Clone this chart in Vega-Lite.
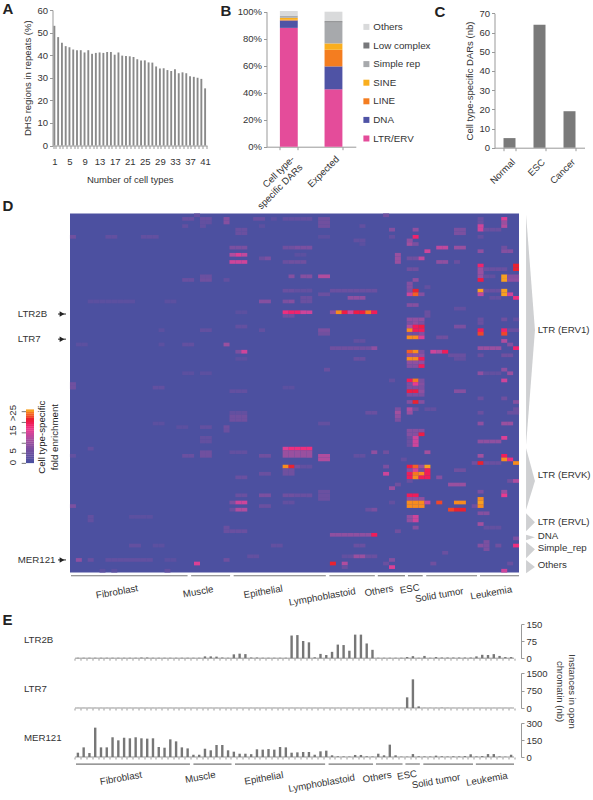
{"$schema":"https://vega.github.io/schema/vega-lite/v6.json","autosize":"none","padding":{"left":52.5,"top":10,"right":540.5,"bottom":790},"background":"white","bounds":"flush","spacing":0,
"config":{"font":"Liberation Sans","view":{"stroke":null},"title":{"font":"Liberation Sans","fontSize":15,"fontWeight":"bold","color":"#222","anchor":"start","frame":"group","offset":0},"axis":{"grid":false,"labelFont":"Liberation Sans","titleFont":"Liberation Sans","labelFontSize":9.5,"titleFontSize":9.5,"titleFontWeight":"normal","labelColor":"#333","titleColor":"#333","domainColor":"#999","tickColor":"#999","tickSize":3},"text":{"font":"Liberation Sans","fontSize":9.7,"color":"#333"},"legend":{"labelFont":"Liberation Sans"}},
"datasets":{
"cells":[{"i":22,"r":1,"v":3},{"i":54,"r":1,"v":5},{"i":20,"r":2,"v":4},{"i":21,"r":2,"v":4},{"i":23,"r":2,"v":4},{"i":24,"r":2,"v":4},{"i":27,"r":2,"v":7},{"i":32,"r":2,"v":4},{"i":33,"r":2,"v":4},{"i":35,"r":2,"v":2},{"i":37,"r":2,"v":3},{"i":38,"r":2,"v":3},{"i":39,"r":2,"v":3},{"i":40,"r":2,"v":3},{"i":41,"r":2,"v":3},{"i":43,"r":2,"v":5},{"i":44,"r":2,"v":5},{"i":70,"r":2,"v":4},{"i":74,"r":2,"v":14},{"i":23,"r":3,"v":3},{"i":24,"r":3,"v":3},{"i":27,"r":3,"v":7},{"i":43,"r":3,"v":5},{"i":44,"r":3,"v":5},{"i":70,"r":3,"v":4},{"i":74,"r":3,"v":9},{"i":20,"r":4,"v":3},{"i":23,"r":4,"v":3},{"i":33,"r":4,"v":2},{"i":43,"r":4,"v":5},{"i":44,"r":4,"v":5},{"i":50,"r":4,"v":3},{"i":70,"r":4,"v":13},{"i":74,"r":4,"v":11},{"i":29,"r":5,"v":4},{"i":30,"r":5,"v":4},{"i":55,"r":5,"v":7},{"i":59,"r":5,"v":8},{"i":66,"r":5,"v":6},{"i":67,"r":5,"v":6},{"i":70,"r":5,"v":13},{"i":71,"r":5,"v":4},{"i":72,"r":5,"v":4},{"i":73,"r":5,"v":4},{"i":29,"r":6,"v":4},{"i":30,"r":6,"v":4},{"i":66,"r":6,"v":6},{"i":67,"r":6,"v":6},{"i":1,"r":7,"v":5},{"i":7,"r":7,"v":3},{"i":8,"r":7,"v":3},{"i":13,"r":7,"v":3},{"i":14,"r":7,"v":3},{"i":15,"r":7,"v":3},{"i":43,"r":7,"v":2},{"i":44,"r":7,"v":2},{"i":55,"r":7,"v":3},{"i":59,"r":7,"v":17},{"i":70,"r":7,"v":3},{"i":49,"r":8,"v":3},{"i":50,"r":8,"v":3},{"i":58,"r":8,"v":8},{"i":50,"r":9,"v":2},{"i":58,"r":9,"v":10},{"i":59,"r":9,"v":6},{"i":28,"r":10,"v":6},{"i":29,"r":10,"v":6},{"i":30,"r":10,"v":6},{"i":37,"r":10,"v":5},{"i":38,"r":10,"v":5},{"i":39,"r":10,"v":6},{"i":40,"r":10,"v":6},{"i":41,"r":10,"v":6},{"i":63,"r":10,"v":12},{"i":64,"r":10,"v":12},{"i":66,"r":10,"v":9},{"i":67,"r":10,"v":9},{"i":74,"r":10,"v":5},{"i":61,"r":11,"v":13},{"i":70,"r":11,"v":8},{"i":74,"r":11,"v":7},{"i":75,"r":11,"v":7},{"i":28,"r":12,"v":11},{"i":29,"r":12,"v":14},{"i":30,"r":12,"v":12},{"i":39,"r":12,"v":2},{"i":40,"r":12,"v":2},{"i":56,"r":12,"v":9},{"i":33,"r":13,"v":4},{"i":34,"r":13,"v":6},{"i":56,"r":13,"v":9},{"i":58,"r":13,"v":5},{"i":59,"r":13,"v":5},{"i":60,"r":13,"v":12},{"i":28,"r":14,"v":13},{"i":29,"r":14,"v":13},{"i":30,"r":14,"v":13},{"i":37,"r":14,"v":4},{"i":38,"r":14,"v":5},{"i":39,"r":14,"v":5},{"i":40,"r":14,"v":5},{"i":56,"r":14,"v":9},{"i":63,"r":14,"v":8},{"i":64,"r":14,"v":8},{"i":66,"r":14,"v":4},{"i":70,"r":15,"v":17},{"i":76,"r":15,"v":20},{"i":58,"r":16,"v":5},{"i":59,"r":16,"v":5},{"i":70,"r":16,"v":9},{"i":71,"r":16,"v":4},{"i":72,"r":16,"v":4},{"i":73,"r":16,"v":4},{"i":74,"r":16,"v":4},{"i":76,"r":16,"v":20},{"i":70,"r":17,"v":9},{"i":23,"r":18,"v":4},{"i":24,"r":18,"v":4},{"i":38,"r":18,"v":7},{"i":40,"r":18,"v":7},{"i":41,"r":18,"v":7},{"i":43,"r":18,"v":11},{"i":44,"r":18,"v":11},{"i":70,"r":18,"v":9},{"i":71,"r":18,"v":3},{"i":72,"r":18,"v":3},{"i":74,"r":18,"v":25},{"i":75,"r":18,"v":7},{"i":76,"r":18,"v":7},{"i":20,"r":19,"v":4},{"i":21,"r":19,"v":4},{"i":23,"r":19,"v":5},{"i":24,"r":19,"v":5},{"i":27,"r":19,"v":3},{"i":59,"r":19,"v":8},{"i":70,"r":19,"v":19},{"i":74,"r":19,"v":25},{"i":75,"r":19,"v":8},{"i":76,"r":19,"v":8},{"i":58,"r":20,"v":7},{"i":58,"r":21,"v":7},{"i":61,"r":21,"v":3},{"i":37,"r":22,"v":4},{"i":38,"r":22,"v":4},{"i":39,"r":22,"v":3},{"i":40,"r":22,"v":3},{"i":41,"r":22,"v":3},{"i":45,"r":22,"v":4},{"i":46,"r":22,"v":4},{"i":47,"r":22,"v":4},{"i":48,"r":22,"v":4},{"i":49,"r":22,"v":4},{"i":50,"r":22,"v":4},{"i":51,"r":22,"v":4},{"i":52,"r":22,"v":4},{"i":58,"r":22,"v":6},{"i":59,"r":22,"v":20},{"i":70,"r":22,"v":25},{"i":71,"r":22,"v":4},{"i":72,"r":22,"v":4},{"i":73,"r":22,"v":4},{"i":74,"r":22,"v":25},{"i":43,"r":23,"v":4},{"i":44,"r":23,"v":4},{"i":58,"r":23,"v":13},{"i":59,"r":23,"v":22},{"i":60,"r":23,"v":7},{"i":70,"r":23,"v":12},{"i":74,"r":23,"v":25},{"i":75,"r":23,"v":13},{"i":40,"r":24,"v":4},{"i":41,"r":24,"v":4},{"i":48,"r":24,"v":8},{"i":49,"r":24,"v":8},{"i":50,"r":24,"v":8},{"i":72,"r":24,"v":3},{"i":73,"r":24,"v":3},{"i":76,"r":24,"v":16},{"i":4,"r":25,"v":2},{"i":5,"r":25,"v":2},{"i":6,"r":25,"v":2},{"i":7,"r":25,"v":2},{"i":8,"r":25,"v":2},{"i":9,"r":25,"v":2},{"i":10,"r":25,"v":2},{"i":11,"r":25,"v":2},{"i":17,"r":25,"v":2},{"i":18,"r":25,"v":2},{"i":33,"r":25,"v":7},{"i":34,"r":25,"v":7},{"i":37,"r":25,"v":6},{"i":38,"r":25,"v":7},{"i":40,"r":25,"v":4},{"i":41,"r":25,"v":4},{"i":58,"r":26,"v":7},{"i":59,"r":26,"v":7},{"i":66,"r":27,"v":3},{"i":67,"r":27,"v":3},{"i":29,"r":28,"v":2},{"i":30,"r":28,"v":2},{"i":37,"r":28,"v":16},{"i":38,"r":28,"v":17},{"i":39,"r":28,"v":17},{"i":40,"r":28,"v":13},{"i":41,"r":28,"v":13},{"i":45,"r":28,"v":8},{"i":46,"r":28,"v":24},{"i":47,"r":28,"v":19},{"i":48,"r":28,"v":13},{"i":49,"r":28,"v":19},{"i":50,"r":28,"v":19},{"i":51,"r":28,"v":23},{"i":52,"r":28,"v":18},{"i":61,"r":28,"v":4},{"i":37,"r":29,"v":5},{"i":38,"r":29,"v":5},{"i":61,"r":29,"v":4},{"i":58,"r":30,"v":8},{"i":59,"r":30,"v":8},{"i":60,"r":30,"v":8},{"i":70,"r":30,"v":4},{"i":74,"r":30,"v":5},{"i":76,"r":30,"v":3},{"i":58,"r":31,"v":6},{"i":59,"r":31,"v":8},{"i":60,"r":31,"v":6},{"i":70,"r":31,"v":4},{"i":29,"r":32,"v":3},{"i":30,"r":32,"v":3},{"i":58,"r":32,"v":11},{"i":59,"r":32,"v":18},{"i":60,"r":32,"v":19},{"i":66,"r":32,"v":6},{"i":67,"r":32,"v":6},{"i":16,"r":33,"v":2},{"i":23,"r":33,"v":3},{"i":24,"r":33,"v":3},{"i":33,"r":33,"v":3},{"i":43,"r":33,"v":6},{"i":44,"r":33,"v":6},{"i":58,"r":33,"v":24},{"i":59,"r":33,"v":18},{"i":60,"r":33,"v":18},{"i":70,"r":33,"v":18},{"i":74,"r":33,"v":17},{"i":75,"r":33,"v":4},{"i":76,"r":33,"v":4},{"i":43,"r":34,"v":5},{"i":44,"r":34,"v":5},{"i":58,"r":34,"v":5},{"i":59,"r":34,"v":5},{"i":60,"r":34,"v":7},{"i":70,"r":34,"v":21},{"i":74,"r":34,"v":21},{"i":58,"r":35,"v":24},{"i":59,"r":35,"v":24},{"i":60,"r":35,"v":14},{"i":63,"r":35,"v":5},{"i":64,"r":35,"v":5},{"i":49,"r":36,"v":3},{"i":50,"r":36,"v":3},{"i":74,"r":36,"v":11},{"i":2,"r":37,"v":2},{"i":3,"r":37,"v":2},{"i":16,"r":37,"v":2},{"i":20,"r":37,"v":3},{"i":21,"r":37,"v":3},{"i":27,"r":37,"v":9},{"i":75,"r":37,"v":7},{"i":45,"r":38,"v":5},{"i":46,"r":38,"v":5},{"i":47,"r":38,"v":5},{"i":48,"r":38,"v":5},{"i":49,"r":38,"v":5},{"i":50,"r":38,"v":5},{"i":51,"r":38,"v":5},{"i":52,"r":38,"v":8},{"i":70,"r":38,"v":9},{"i":71,"r":38,"v":9},{"i":72,"r":38,"v":9},{"i":73,"r":38,"v":9},{"i":76,"r":38,"v":17},{"i":29,"r":39,"v":6},{"i":30,"r":39,"v":13},{"i":58,"r":39,"v":22},{"i":59,"r":39,"v":24},{"i":60,"r":39,"v":6},{"i":62,"r":39,"v":13},{"i":63,"r":39,"v":11},{"i":64,"r":39,"v":18},{"i":58,"r":40,"v":8},{"i":59,"r":40,"v":8},{"i":60,"r":40,"v":8},{"i":65,"r":40,"v":4},{"i":66,"r":40,"v":4},{"i":67,"r":40,"v":4},{"i":70,"r":40,"v":4},{"i":74,"r":40,"v":5},{"i":75,"r":40,"v":5},{"i":29,"r":41,"v":2},{"i":30,"r":41,"v":2},{"i":49,"r":41,"v":4},{"i":50,"r":41,"v":4},{"i":58,"r":41,"v":24},{"i":59,"r":41,"v":24},{"i":60,"r":41,"v":18},{"i":66,"r":41,"v":3},{"i":67,"r":41,"v":3},{"i":58,"r":42,"v":8},{"i":59,"r":42,"v":8},{"i":60,"r":42,"v":8},{"i":58,"r":43,"v":7},{"i":59,"r":43,"v":7},{"i":60,"r":43,"v":18},{"i":44,"r":44,"v":4},{"i":74,"r":44,"v":8},{"i":20,"r":45,"v":2},{"i":21,"r":45,"v":2},{"i":23,"r":45,"v":2},{"i":24,"r":45,"v":2},{"i":70,"r":45,"v":8},{"i":71,"r":45,"v":3},{"i":72,"r":45,"v":3},{"i":73,"r":45,"v":3},{"i":75,"r":45,"v":9},{"i":55,"r":47,"v":3},{"i":58,"r":47,"v":18},{"i":59,"r":47,"v":23},{"i":60,"r":47,"v":6},{"i":74,"r":47,"v":13},{"i":1,"r":48,"v":5},{"i":58,"r":48,"v":6},{"i":59,"r":48,"v":15},{"i":60,"r":48,"v":7},{"i":1,"r":49,"v":5},{"i":15,"r":49,"v":3},{"i":16,"r":49,"v":3},{"i":37,"r":49,"v":2},{"i":38,"r":49,"v":2},{"i":58,"r":49,"v":6},{"i":59,"r":49,"v":6},{"i":60,"r":49,"v":6},{"i":28,"r":50,"v":3},{"i":29,"r":50,"v":3},{"i":30,"r":50,"v":3},{"i":58,"r":50,"v":19},{"i":59,"r":50,"v":19},{"i":60,"r":50,"v":8},{"i":66,"r":50,"v":7},{"i":67,"r":50,"v":7},{"i":58,"r":51,"v":6},{"i":59,"r":51,"v":6},{"i":60,"r":51,"v":6},{"i":70,"r":52,"v":4},{"i":74,"r":52,"v":5},{"i":58,"r":53,"v":7},{"i":59,"r":53,"v":20},{"i":60,"r":53,"v":7},{"i":76,"r":53,"v":7},{"i":56,"r":55,"v":6},{"i":58,"r":55,"v":11},{"i":59,"r":55,"v":5},{"i":61,"r":55,"v":3},{"i":62,"r":55,"v":3},{"i":76,"r":55,"v":4},{"i":28,"r":56,"v":3},{"i":29,"r":56,"v":3},{"i":30,"r":56,"v":3},{"i":51,"r":56,"v":4},{"i":52,"r":56,"v":4},{"i":56,"r":56,"v":10},{"i":58,"r":56,"v":9},{"i":70,"r":56,"v":4},{"i":75,"r":56,"v":4},{"i":76,"r":56,"v":4},{"i":28,"r":57,"v":5},{"i":29,"r":57,"v":5},{"i":30,"r":57,"v":5},{"i":56,"r":57,"v":8},{"i":28,"r":58,"v":5},{"i":29,"r":58,"v":5},{"i":30,"r":58,"v":5},{"i":56,"r":58,"v":6},{"i":15,"r":59,"v":2},{"i":16,"r":59,"v":2},{"i":43,"r":59,"v":3},{"i":44,"r":59,"v":3},{"i":70,"r":59,"v":8},{"i":74,"r":59,"v":9},{"i":75,"r":59,"v":9},{"i":19,"r":60,"v":2},{"i":20,"r":60,"v":2},{"i":23,"r":60,"v":3},{"i":24,"r":60,"v":3},{"i":27,"r":60,"v":5},{"i":27,"r":61,"v":4},{"i":58,"r":61,"v":7},{"i":59,"r":61,"v":7},{"i":60,"r":61,"v":7},{"i":58,"r":62,"v":7},{"i":59,"r":62,"v":7},{"i":60,"r":62,"v":19},{"i":23,"r":63,"v":3},{"i":24,"r":63,"v":3},{"i":58,"r":63,"v":4},{"i":59,"r":63,"v":13},{"i":74,"r":63,"v":14},{"i":23,"r":64,"v":3},{"i":24,"r":64,"v":3},{"i":58,"r":64,"v":4},{"i":59,"r":64,"v":13},{"i":70,"r":64,"v":8},{"i":71,"r":64,"v":8},{"i":72,"r":64,"v":8},{"i":73,"r":64,"v":8},{"i":58,"r":65,"v":4},{"i":59,"r":65,"v":13},{"i":4,"r":66,"v":3},{"i":37,"r":66,"v":14},{"i":38,"r":66,"v":16},{"i":39,"r":66,"v":16},{"i":40,"r":66,"v":16},{"i":41,"r":66,"v":16},{"i":23,"r":67,"v":5},{"i":24,"r":67,"v":5},{"i":28,"r":67,"v":3},{"i":29,"r":67,"v":3},{"i":30,"r":67,"v":3},{"i":37,"r":67,"v":9},{"i":38,"r":67,"v":9},{"i":39,"r":67,"v":9},{"i":40,"r":67,"v":9},{"i":41,"r":67,"v":9},{"i":52,"r":67,"v":8},{"i":54,"r":67,"v":5},{"i":61,"r":67,"v":10},{"i":1,"r":68,"v":3},{"i":20,"r":68,"v":4},{"i":21,"r":68,"v":4},{"i":23,"r":68,"v":5},{"i":24,"r":68,"v":5},{"i":33,"r":68,"v":5},{"i":34,"r":68,"v":5},{"i":37,"r":68,"v":9},{"i":38,"r":68,"v":9},{"i":39,"r":68,"v":9},{"i":40,"r":68,"v":9},{"i":41,"r":68,"v":9},{"i":43,"r":68,"v":11},{"i":44,"r":68,"v":11},{"i":49,"r":68,"v":3},{"i":50,"r":68,"v":3},{"i":70,"r":68,"v":10},{"i":74,"r":68,"v":18},{"i":43,"r":69,"v":11},{"i":44,"r":69,"v":11},{"i":57,"r":69,"v":3},{"i":74,"r":69,"v":24},{"i":75,"r":69,"v":16},{"i":69,"r":70,"v":5},{"i":70,"r":70,"v":20},{"i":71,"r":70,"v":4},{"i":72,"r":70,"v":4},{"i":73,"r":70,"v":4},{"i":76,"r":70,"v":24},{"i":37,"r":71,"v":24},{"i":38,"r":71,"v":20},{"i":39,"r":71,"v":5},{"i":40,"r":71,"v":3},{"i":41,"r":71,"v":3},{"i":54,"r":71,"v":6},{"i":58,"r":71,"v":19},{"i":59,"r":71,"v":22},{"i":60,"r":71,"v":9},{"i":61,"r":71,"v":25},{"i":37,"r":72,"v":5},{"i":38,"r":72,"v":5},{"i":58,"r":72,"v":7},{"i":59,"r":72,"v":14},{"i":60,"r":72,"v":5},{"i":61,"r":72,"v":18},{"i":66,"r":72,"v":5},{"i":67,"r":72,"v":5},{"i":33,"r":73,"v":4},{"i":34,"r":73,"v":4},{"i":37,"r":73,"v":5},{"i":38,"r":73,"v":5},{"i":54,"r":73,"v":13},{"i":58,"r":73,"v":18},{"i":59,"r":73,"v":23},{"i":60,"r":73,"v":24},{"i":61,"r":73,"v":18},{"i":29,"r":74,"v":4},{"i":30,"r":74,"v":4},{"i":58,"r":74,"v":18},{"i":59,"r":74,"v":24},{"i":60,"r":74,"v":18},{"i":61,"r":74,"v":18},{"i":63,"r":74,"v":7},{"i":58,"r":75,"v":4},{"i":75,"r":75,"v":5},{"i":76,"r":75,"v":11},{"i":56,"r":76,"v":5},{"i":65,"r":76,"v":9},{"i":66,"r":76,"v":9},{"i":67,"r":76,"v":9},{"i":55,"r":77,"v":9},{"i":43,"r":78,"v":4},{"i":44,"r":78,"v":4},{"i":70,"r":78,"v":6},{"i":74,"r":78,"v":9},{"i":29,"r":79,"v":4},{"i":30,"r":79,"v":4},{"i":33,"r":79,"v":6},{"i":34,"r":79,"v":6},{"i":37,"r":79,"v":5},{"i":38,"r":79,"v":5},{"i":39,"r":79,"v":4},{"i":40,"r":79,"v":4},{"i":41,"r":79,"v":4},{"i":43,"r":79,"v":4},{"i":44,"r":79,"v":4},{"i":58,"r":79,"v":18},{"i":59,"r":79,"v":18},{"i":74,"r":79,"v":15},{"i":43,"r":80,"v":4},{"i":44,"r":80,"v":4},{"i":58,"r":80,"v":8},{"i":59,"r":80,"v":8},{"i":60,"r":80,"v":8},{"i":70,"r":80,"v":24},{"i":28,"r":81,"v":6},{"i":29,"r":81,"v":13},{"i":30,"r":81,"v":13},{"i":37,"r":81,"v":3},{"i":38,"r":81,"v":3},{"i":55,"r":81,"v":3},{"i":58,"r":81,"v":24},{"i":59,"r":81,"v":24},{"i":60,"r":81,"v":24},{"i":61,"r":81,"v":12},{"i":63,"r":81,"v":21},{"i":66,"r":81,"v":24},{"i":67,"r":81,"v":24},{"i":70,"r":81,"v":25},{"i":1,"r":82,"v":6},{"i":33,"r":82,"v":4},{"i":34,"r":82,"v":4},{"i":58,"r":82,"v":24},{"i":59,"r":82,"v":24},{"i":60,"r":82,"v":24},{"i":69,"r":82,"v":5},{"i":70,"r":82,"v":24},{"i":28,"r":83,"v":4},{"i":29,"r":83,"v":11},{"i":30,"r":83,"v":11},{"i":51,"r":83,"v":4},{"i":52,"r":83,"v":6},{"i":65,"r":83,"v":21},{"i":66,"r":83,"v":20},{"i":67,"r":83,"v":20},{"i":70,"r":84,"v":7},{"i":71,"r":84,"v":7},{"i":4,"r":85,"v":3},{"i":11,"r":85,"v":2},{"i":12,"r":85,"v":2},{"i":13,"r":85,"v":2},{"i":14,"r":85,"v":2},{"i":58,"r":85,"v":8},{"i":59,"r":85,"v":13},{"i":4,"r":86,"v":3},{"i":58,"r":86,"v":8},{"i":59,"r":86,"v":13},{"i":70,"r":87,"v":10},{"i":27,"r":88,"v":4},{"i":59,"r":88,"v":7},{"i":71,"r":88,"v":3},{"i":72,"r":88,"v":3},{"i":73,"r":88,"v":3},{"i":27,"r":89,"v":4},{"i":28,"r":89,"v":4},{"i":29,"r":89,"v":4},{"i":30,"r":89,"v":4},{"i":56,"r":89,"v":5},{"i":45,"r":90,"v":8},{"i":46,"r":90,"v":8},{"i":47,"r":90,"v":8},{"i":48,"r":90,"v":8},{"i":49,"r":90,"v":8},{"i":50,"r":90,"v":8},{"i":51,"r":90,"v":8},{"i":52,"r":90,"v":18},{"i":76,"r":91,"v":6},{"i":71,"r":92,"v":6},{"i":11,"r":93,"v":3},{"i":12,"r":93,"v":3},{"i":15,"r":93,"v":2},{"i":16,"r":93,"v":2},{"i":35,"r":93,"v":3},{"i":36,"r":93,"v":3},{"i":49,"r":93,"v":4},{"i":50,"r":93,"v":4},{"i":70,"r":93,"v":7},{"i":71,"r":93,"v":6},{"i":73,"r":93,"v":5},{"i":76,"r":93,"v":16},{"i":71,"r":94,"v":6},{"i":64,"r":95,"v":4},{"i":31,"r":96,"v":3},{"i":32,"r":96,"v":3},{"i":47,"r":96,"v":3},{"i":48,"r":96,"v":3},{"i":49,"r":96,"v":9},{"i":50,"r":96,"v":9},{"i":51,"r":96,"v":4},{"i":52,"r":96,"v":4},{"i":2,"r":97,"v":8},{"i":4,"r":97,"v":4},{"i":7,"r":97,"v":3},{"i":8,"r":97,"v":3},{"i":9,"r":97,"v":3},{"i":10,"r":97,"v":3},{"i":11,"r":97,"v":3},{"i":12,"r":97,"v":3},{"i":13,"r":97,"v":3},{"i":14,"r":97,"v":3},{"i":17,"r":97,"v":2},{"i":18,"r":97,"v":2},{"i":27,"r":97,"v":5},{"i":55,"r":97,"v":7},{"i":22,"r":98,"v":14},{"i":45,"r":98,"v":20},{"i":47,"r":98,"v":11},{"i":54,"r":98,"v":4},{"i":62,"r":98,"v":5},{"i":75,"r":98,"v":4},{"i":47,"r":99,"v":4},{"i":55,"r":99,"v":14},{"i":6,"r":100,"v":2},{"i":8,"r":100,"v":2},{"i":17,"r":100,"v":3},{"i":74,"r":100,"v":13}],
"ramp":[{"i":-6.27,"r":69.7,"v":0},{"i":-6.27,"r":69.1,"v":1},{"i":-6.27,"r":68.5,"v":2},{"i":-6.27,"r":67.9,"v":3},{"i":-6.27,"r":67.3,"v":4},{"i":-6.27,"r":66.7,"v":5},{"i":-6.27,"r":66.1,"v":6},{"i":-6.27,"r":65.5,"v":7},{"i":-6.27,"r":64.9,"v":8},{"i":-6.27,"r":64.3,"v":9},{"i":-6.27,"r":63.7,"v":10},{"i":-6.27,"r":63.1,"v":11},{"i":-6.27,"r":62.5,"v":12},{"i":-6.27,"r":61.9,"v":13},{"i":-6.27,"r":61.3,"v":14},{"i":-6.27,"r":60.7,"v":15},{"i":-6.27,"r":60.1,"v":16},{"i":-6.27,"r":59.5,"v":17},{"i":-6.27,"r":58.9,"v":18},{"i":-6.27,"r":58.3,"v":19},{"i":-6.27,"r":57.7,"v":20},{"i":-6.27,"r":57.1,"v":21},{"i":-6.27,"r":56.5,"v":22},{"i":-6.27,"r":55.9,"v":23},{"i":-6.27,"r":55.4,"v":25}],
"rampTicks":[{"i":-7.68,"i2":-6.95,"r":55.7},{"i":-7.68,"i2":-6.95,"r":58.7},{"i":-7.68,"i2":-6.95,"r":61.6},{"i":-7.68,"i2":-6.95,"r":64.5},{"i":-7.68,"i2":-6.95,"r":67.3},{"i":-7.68,"i2":-6.95,"r":70.1}],
"groupLines":[{"i":0.67,"i2":20.4,"r":101.4,"n":-62},{"i":21,"i2":27.6,"r":101.4,"n":-62},{"i":28.2,"i2":43.8,"r":101.4,"n":-62},{"i":44.4,"i2":52.1,"r":101.4,"n":-62},{"i":52.6,"i2":57.2,"r":101.4,"n":-62},{"i":57.7,"i2":60.2,"r":101.4,"n":-62},{"i":60.8,"i2":69.4,"r":101.4,"n":-62},{"i":69.9,"i2":76.5,"r":101.4,"n":-62}],
"groupLabels":[{"i":8.46,"r":105.9,"n":-188,"label":"Fibroblast"},{"i":22.2,"r":105.9,"n":-179,"label":"Muscle"},{"i":33.2,"r":105.9,"n":-188,"label":"Epithelial"},{"i":43.2,"r":107.3,"n":-232,"label":"Lymphoblastoid"},{"i":52.8,"r":105.6,"n":-179,"label":"Others"},{"i":58,"r":105.1,"n":-161,"label":"ESC"},{"i":63,"r":106.8,"n":-214,"label":"Solid tumor"},{"i":71.8,"r":106.2,"n":-197,"label":"Leukemia"}],
"repeats":[{"i":-8.35,"r":28.5,"label":"LTR2B"},{"i":-8.35,"r":35.5,"label":"LTR7"},{"i":-8.35,"r":97,"label":"MER121"}],
"arrows":[{"i":-1.53,"i2":-0.18,"r":28.5},{"i":-1.53,"i2":-0.18,"r":35.5},{"i":-1.53,"i2":-0.18,"r":97}],
"families":[{"f":"ERV1","i":77.7,"r":0.9},{"f":"ERV1","i":79.2,"r":33},{"f":"ERV1","i":77.7,"r":65},{"f":"ERVK","i":77.7,"r":65.9},{"f":"ERVK","i":79.2,"r":75},{"f":"ERVK","i":77.7,"r":83},{"f":"ERVL","i":77.7,"r":84},{"f":"ERVL","i":79.2,"r":86.5},{"f":"ERVL","i":77.7,"r":89},{"f":"DNA","i":77.7,"r":90},{"f":"DNA","i":79.2,"r":90.7},{"f":"DNA","i":77.7,"r":91.5},{"f":"Simple","i":77.7,"r":92},{"f":"Simple","i":79.2,"r":94},{"f":"Simple","i":77.7,"r":96.5},{"f":"Others","i":77.7,"r":97},{"f":"Others","i":79.2,"r":99},{"f":"Others","i":77.7,"r":100.7}],
"familyLabels":[{"i":79.66,"r":33,"label":"LTR (ERV1)"},{"i":79.66,"r":73.3,"label":"LTR (ERVK)"},{"i":79.66,"r":86.3,"label":"LTR (ERVL)"},{"i":79.66,"r":90.2,"label":"DNA"},{"i":79.66,"r":93.8,"label":"Simple_rep"},{"i":79.66,"r":98.4,"label":"Others"}]
},
"vconcat":[
{"spacing":0,"bounds":"flush","hconcat":[
{"title":{"text":"A","dx":-50,"dy":16},"width":213.2,"height":135.5,
"data":{"values":[{"c":1,"p":53},{"c":2,"p":48},{"c":3,"p":45.5},{"c":4,"p":44},{"c":5,"p":43.5},{"c":6,"p":42.5},{"c":7,"p":42.2},{"c":8,"p":42.2},{"c":9,"p":41.2},{"c":10,"p":42.2},{"c":11,"p":40.6},{"c":12,"p":41},{"c":13,"p":41.2},{"c":14,"p":41},{"c":15,"p":41.4},{"c":16,"p":41.4},{"c":17,"p":40.2},{"c":18,"p":41.2},{"c":19,"p":39.8},{"c":20,"p":39.6},{"c":21,"p":39.5},{"c":22,"p":39.2},{"c":23,"p":38.2},{"c":24,"p":37.6},{"c":25,"p":37.7},{"c":26,"p":36.8},{"c":27,"p":36.7},{"c":28,"p":35},{"c":29,"p":34.1},{"c":30,"p":34.2},{"c":31,"p":33.4},{"c":32,"p":33},{"c":33,"p":33.8},{"c":34,"p":32},{"c":35,"p":32.4},{"c":36,"p":32},{"c":37,"p":30.7},{"c":38,"p":30.4},{"c":39,"p":30},{"c":40,"p":29.5},{"c":41,"p":25.3}]},
"mark":{"type":"bar","color":"#8a8a8a"},
"encoding":{"x":{"field":"c","type":"ordinal","scale":{"range":[0,154.5],"paddingInner":0.5,"paddingOuter":0.25},"axis":{"title":"Number of cell types","labelAngle":0,"labelExpr":"(datum.value-1)%4==0?datum.value:''","tickBand":"extent","labelPadding":8,"titlePadding":8}},
"y":{"field":"p","type":"quantitative","scale":{"domain":[0,60],"range":[135.5,0]},"axis":{"title":"DHS regions in repeats (%)","values":[0,10,20,30,40,50,60]}}}},
{"title":{"text":"B","dx":-46,"dy":16},"width":227.6,"height":136.7,
"data":{"values":[{"s":"Cell type-|specific DARs","t":"LTR/ERV","o":1,"p":88},{"s":"Cell type-|specific DARs","t":"DNA","o":2,"p":5.5},{"s":"Cell type-|specific DARs","t":"LINE","o":3,"p":0.5},{"s":"Cell type-|specific DARs","t":"SINE","o":4,"p":1.5},{"s":"Cell type-|specific DARs","t":"Simple rep","o":5,"p":1.2},{"s":"Cell type-|specific DARs","t":"Low complex","o":6,"p":0.3},{"s":"Cell type-|specific DARs","t":"Others","o":7,"p":3.5},{"s":"Expected","t":"LTR/ERV","o":1,"p":42.5},{"s":"Expected","t":"DNA","o":2,"p":17},{"s":"Expected","t":"LINE","o":3,"p":12.3},{"s":"Expected","t":"SINE","o":4,"p":4.7},{"s":"Expected","t":"Simple rep","o":5,"p":15.5},{"s":"Expected","t":"Low complex","o":6,"p":1},{"s":"Expected","t":"Others","o":7,"p":7}]},
"mark":{"type":"bar"},
"encoding":{"x":{"field":"s","type":"nominal","sort":null,"scale":{"range":[0,89.3],"paddingInner":0.6,"paddingOuter":0.3},"axis":{"title":null,"labelAngle":-45,"labelAlign":"right","labelBaseline":"top","tickBand":"extent","labelExpr":"datum.value?split(datum.value,'|'):''","labelPadding":4}},
"y":{"field":"p","type":"quantitative","stack":"zero","scale":{"domain":[0,100],"range":[136.7,1.7]},"axis":{"title":null,"values":[0,20,40,60,80,100],"labelExpr":"datum.value+'%'"}},
"order":{"field":"o"},
"color":{"field":"t","type":"nominal","scale":{"domain":["Others","Low complex","Simple rep","SINE","LINE","DNA","LTR/ERV"],"range":["#d9dadb","#77787b","#a7a9ac","#f9ae1e","#f47d20","#4f53a5","#e44c9a"]},"legend":{"title":null,"orient":"none","legendX":309,"legendY":12,"symbolType":"square","symbolSize":36,"labelFontSize":9.8,"labelColor":"#333","rowPadding":7.6,"labelOffset":2,"symbolStrokeWidth":0}}}},
{"title":{"text":"C","dx":-60,"dy":16},"width":90,"height":137.7,
"data":{"values":[{"g":"Normal","n":5},{"g":"ESC","n":64},{"g":"Cancer","n":19}]},
"mark":{"type":"bar","color":"#7a7a7a"},
"encoding":{"x":{"field":"g","type":"nominal","sort":null,"scale":{"range":[0,90],"paddingInner":0.6,"paddingOuter":0.3},"axis":{"title":null,"labelAngle":-45,"labelAlign":"right","labelBaseline":"top","tickBand":"extent","labelPadding":6}},
"y":{"field":"n","type":"quantitative","scale":{"domain":[0,70],"range":[137.7,3.3]},"axis":{"title":"Cell type-specific DARs (nb)","values":[0,10,20,30,40,50,60,70]}}}}
]},
{"title":{"text":"D","dx":-50,"dy":208},"width":466.5,"height":562.5,
"encoding":{"x":{"field":"i","type":"quantitative","scale":{"domain":[0.5,76.5],"range":[17.5,466.5]},"axis":null},"y":{"field":"r","type":"quantitative","scale":{"domain":[0.5,100.5],"range":[203.5,562.5]},"axis":null}},
"layer":[
{"data":{"values":[{"i":0.5,"i2":76.5,"r":0.5,"r2":100.5}]},"mark":{"type":"rect","color":"#4c50a0"},"encoding":{"x2":{"field":"i2"},"y2":{"field":"r2"}}},
{"data":{"name":"cells"},"mark":{"type":"rect","width":6,"height":3.7},"encoding":{"color":{"field":"v","type":"quantitative","legend":null,"scale":{"domain":[0,5,10,15,20,25],"range":["#4c50a0","#70509f","#a2509e","#e83b8f","#ea2230","#f8a020"]}}}},
{"data":{"name":"ramp"},"mark":{"type":"rect","width":8,"height":2.4},"encoding":{"color":{"field":"v","type":"quantitative","legend":null,"scale":{"domain":[0,5,10,15,20,25],"range":["#4c50a0","#70509f","#a2509e","#e83b8f","#ea2230","#f8a020"]}}}},
{"data":{"name":"rampTicks"},"mark":{"type":"rule","color":"#555","strokeWidth":0.8},"encoding":{"x2":{"field":"i2"}}},
{"data":{"values":[{"i":-9.1,"r":69.9,"label":"0"},{"i":-9.1,"r":66.6,"label":"5"},{"i":-9.1,"r":61,"label":"15"},{"i":-9.1,"r":56.1,"label":">25"}]},"mark":{"type":"text","angle":270},"encoding":{"text":{"field":"label"}}},
{"data":{"values":[{"i":-4.24,"r":62.8,"label":"Cell type-specific"},{"i":-2.04,"r":62.8,"label":"fold enrichment"}]},"mark":{"type":"text","angle":270,"color":"#222"},"encoding":{"text":{"field":"label"}}},
{"data":{"name":"repeats"},"mark":{"type":"text","align":"left"},"encoding":{"text":{"field":"label"}}},
{"data":{"name":"arrows"},"mark":{"type":"rule","color":"#222","strokeWidth":1},"encoding":{"x2":{"field":"i2"}}},
{"data":{"name":"arrows"},"mark":{"type":"point","shape":"triangle-right","filled":true,"size":30,"color":"#222","opacity":1,"xOffset":4}},
{"data":{"name":"groupLines"},"mark":{"type":"rule","color":"#777","strokeWidth":1.2},"encoding":{"x2":{"field":"i2"}}},
{"data":{"name":"groupLabels"},"mark":{"type":"text","angle":350},"encoding":{"text":{"field":"label"}}},
{"data":{"name":"families"},"mark":{"type":"area","orient":"horizontal","color":"#cfd0d2"},"encoding":{"x2":{"datum":77.7},"detail":{"field":"f"}}},
{"data":{"name":"familyLabels"},"mark":{"type":"text","align":"left"},"encoding":{"text":{"field":"label"}}}
]},
{"title":{"text":"E","dx":-50,"dy":59},"width":468.5,"height":85.2,
"encoding":{"x":{"field":"i","type":"quantitative","scale":{"domain":[0.5,76.5],"range":[17.5,466.5]},"axis":{"title":null,"labels":false,"domain":false,"tickSize":2,"values":[0.5,1.5,2.5,3.5,4.5,5.5,6.5,7.5,8.5,9.5,10.5,11.5,12.5,13.5,14.5,15.5,16.5,17.5,18.5,19.5,20.5,21.5,22.5,23.5,24.5,25.5,26.5,27.5,28.5,29.5,30.5,31.5,32.5,33.5,34.5,35.5,36.5,37.5,38.5,39.5,40.5,41.5,42.5,43.5,44.5,45.5,46.5,47.5,48.5,49.5,50.5,51.5,52.5,53.5,54.5,55.5,56.5,57.5,58.5,59.5,60.5,61.5,62.5,63.5,64.5,65.5,66.5,67.5,68.5,69.5,70.5,71.5,72.5,73.5,74.5,75.5,76.5]}},"y":{"field":"n","type":"quantitative","scale":{"domain":[0,150],"range":[85.2,51.2]},"axis":{"orient":"right","title":null,"format":"d","values":[0,75,150]}}},
"layer":[
{"data":{"values":[{"i":0.5,"i2":76.5,"n":0}]},"mark":{"type":"rule","color":"#999"},"encoding":{"x2":{"field":"i2"}}},
{"data":{"values":[{"i":1,"n":2},{"i":2,"n":2},{"i":3,"n":2},{"i":4,"n":2},{"i":5,"n":2},{"i":6,"n":2},{"i":7,"n":2},{"i":8,"n":2},{"i":9,"n":2},{"i":10,"n":2},{"i":11,"n":2},{"i":12,"n":3},{"i":13,"n":3},{"i":14,"n":2},{"i":15,"n":2},{"i":16,"n":2},{"i":17,"n":2},{"i":18,"n":2},{"i":19,"n":2},{"i":20,"n":2},{"i":21,"n":2},{"i":22,"n":2},{"i":23,"n":8},{"i":24,"n":8},{"i":25,"n":7},{"i":26,"n":3},{"i":27,"n":2},{"i":28,"n":17},{"i":29,"n":20},{"i":30,"n":18},{"i":31,"n":3},{"i":32,"n":3},{"i":33,"n":2},{"i":34,"n":2},{"i":35,"n":2},{"i":36,"n":2},{"i":37,"n":2},{"i":38,"n":100},{"i":39,"n":102},{"i":40,"n":76},{"i":41,"n":70},{"i":42,"n":4},{"i":43,"n":19},{"i":44,"n":14},{"i":45,"n":28},{"i":46,"n":60},{"i":47,"n":58},{"i":48,"n":33},{"i":49,"n":104},{"i":50,"n":104},{"i":51,"n":65},{"i":52,"n":37},{"i":53,"n":2},{"i":54,"n":2},{"i":55,"n":2},{"i":56,"n":2},{"i":57,"n":2},{"i":58,"n":5},{"i":59,"n":9},{"i":60,"n":2},{"i":61,"n":10},{"i":62,"n":2},{"i":63,"n":5},{"i":64,"n":3},{"i":65,"n":3},{"i":66,"n":3},{"i":67,"n":3},{"i":68,"n":3},{"i":69,"n":3},{"i":70,"n":8},{"i":71,"n":15},{"i":72,"n":14},{"i":73,"n":18},{"i":74,"n":10},{"i":75,"n":5},{"i":76,"n":5}]},"mark":{"type":"bar","orient":"vertical","width":2.4,"color":"#777"}},
{"data":{"values":[{"i":-8.35,"n":82,"label":"LTR2B"}]},"mark":{"type":"text","align":"left"},"encoding":{"text":{"field":"label"}}}
]},
{"width":468.5,"height":49,
"encoding":{"x":{"field":"i","type":"quantitative","scale":{"domain":[0.5,76.5],"range":[17.5,466.5]},"axis":{"title":null,"labels":false,"domain":false,"tickSize":2,"values":[0.5,1.5,2.5,3.5,4.5,5.5,6.5,7.5,8.5,9.5,10.5,11.5,12.5,13.5,14.5,15.5,16.5,17.5,18.5,19.5,20.5,21.5,22.5,23.5,24.5,25.5,26.5,27.5,28.5,29.5,30.5,31.5,32.5,33.5,34.5,35.5,36.5,37.5,38.5,39.5,40.5,41.5,42.5,43.5,44.5,45.5,46.5,47.5,48.5,49.5,50.5,51.5,52.5,53.5,54.5,55.5,56.5,57.5,58.5,59.5,60.5,61.5,62.5,63.5,64.5,65.5,66.5,67.5,68.5,69.5,70.5,71.5,72.5,73.5,74.5,75.5,76.5]}},"y":{"field":"n","type":"quantitative","scale":{"domain":[0,1500],"range":[49,14]},"axis":{"orient":"right","format":"d","title":["Instances in open","chromatin (nb)"],"titleAngle":90,"titleX":45,"titleY":32,"titleAlign":"center","values":[0,750,1500]}}},
"layer":[
{"data":{"values":[{"i":0.5,"i2":76.5,"n":0}]},"mark":{"type":"rule","color":"#999"},"encoding":{"x2":{"field":"i2"}}},
{"data":{"values":[{"i":1,"n":3},{"i":2,"n":3},{"i":3,"n":3},{"i":4,"n":3},{"i":5,"n":3},{"i":6,"n":3},{"i":7,"n":3},{"i":8,"n":3},{"i":9,"n":3},{"i":10,"n":3},{"i":11,"n":3},{"i":12,"n":3},{"i":13,"n":3},{"i":14,"n":3},{"i":15,"n":3},{"i":16,"n":3},{"i":17,"n":3},{"i":18,"n":3},{"i":19,"n":3},{"i":20,"n":3},{"i":21,"n":3},{"i":22,"n":3},{"i":23,"n":3},{"i":24,"n":3},{"i":25,"n":3},{"i":26,"n":3},{"i":27,"n":3},{"i":28,"n":3},{"i":29,"n":3},{"i":30,"n":3},{"i":31,"n":3},{"i":32,"n":3},{"i":33,"n":3},{"i":34,"n":3},{"i":35,"n":3},{"i":36,"n":3},{"i":37,"n":3},{"i":38,"n":3},{"i":39,"n":3},{"i":40,"n":3},{"i":41,"n":3},{"i":42,"n":3},{"i":43,"n":3},{"i":44,"n":3},{"i":45,"n":3},{"i":46,"n":3},{"i":47,"n":3},{"i":48,"n":3},{"i":49,"n":3},{"i":50,"n":3},{"i":51,"n":3},{"i":52,"n":3},{"i":53,"n":3},{"i":54,"n":3},{"i":55,"n":3},{"i":56,"n":3},{"i":57,"n":3},{"i":58,"n":457},{"i":59,"n":1229},{"i":60,"n":70},{"i":61,"n":5},{"i":62,"n":5},{"i":63,"n":5},{"i":64,"n":10},{"i":65,"n":5},{"i":66,"n":3},{"i":67,"n":3},{"i":68,"n":3},{"i":69,"n":3},{"i":70,"n":3},{"i":71,"n":3},{"i":72,"n":3},{"i":73,"n":3},{"i":74,"n":3},{"i":75,"n":3},{"i":76,"n":3}]},"mark":{"type":"bar","orient":"vertical","width":2.4,"color":"#777"}},
{"data":{"values":[{"i":-8.35,"n":814,"label":"LTR7"}]},"mark":{"type":"text","align":"left"},"encoding":{"text":{"field":"label"}}}
]},
{"width":468.5,"height":49,
"encoding":{"x":{"field":"i","type":"quantitative","scale":{"domain":[0.5,76.5],"range":[17.5,466.5]},"axis":{"title":null,"labels":false,"domain":false,"tickSize":2,"values":[0.5,1.5,2.5,3.5,4.5,5.5,6.5,7.5,8.5,9.5,10.5,11.5,12.5,13.5,14.5,15.5,16.5,17.5,18.5,19.5,20.5,21.5,22.5,23.5,24.5,25.5,26.5,27.5,28.5,29.5,30.5,31.5,32.5,33.5,34.5,35.5,36.5,37.5,38.5,39.5,40.5,41.5,42.5,43.5,44.5,45.5,46.5,47.5,48.5,49.5,50.5,51.5,52.5,53.5,54.5,55.5,56.5,57.5,58.5,59.5,60.5,61.5,62.5,63.5,64.5,65.5,66.5,67.5,68.5,69.5,70.5,71.5,72.5,73.5,74.5,75.5,76.5]}},"y":{"field":"n","type":"quantitative","scale":{"domain":[0,300],"range":[49,15]},"axis":{"orient":"right","format":"d","title":null,"values":[0,150,300]}}},
"layer":[
{"data":{"values":[{"i":0.5,"i2":76.5,"n":0}]},"mark":{"type":"rule","color":"#999"},"encoding":{"x2":{"field":"i2"}}},
{"data":{"values":[{"i":1,"n":38},{"i":2,"n":85},{"i":3,"n":35},{"i":4,"n":259},{"i":5,"n":85},{"i":6,"n":85},{"i":7,"n":174},{"i":8,"n":147},{"i":9,"n":170},{"i":10,"n":165},{"i":11,"n":174},{"i":12,"n":165},{"i":13,"n":162},{"i":14,"n":165},{"i":15,"n":88},{"i":16,"n":82},{"i":17,"n":156},{"i":18,"n":138},{"i":19,"n":85},{"i":20,"n":76},{"i":21,"n":20},{"i":22,"n":20},{"i":23,"n":73},{"i":24,"n":59},{"i":25,"n":106},{"i":26,"n":106},{"i":27,"n":59},{"i":28,"n":47},{"i":29,"n":29},{"i":30,"n":29},{"i":31,"n":25},{"i":32,"n":68},{"i":33,"n":65},{"i":34,"n":70},{"i":35,"n":65},{"i":36,"n":88},{"i":37,"n":85},{"i":38,"n":38},{"i":39,"n":41},{"i":40,"n":44},{"i":41,"n":44},{"i":42,"n":20},{"i":43,"n":50},{"i":44,"n":56},{"i":45,"n":15},{"i":46,"n":6},{"i":47,"n":5},{"i":48,"n":4},{"i":49,"n":18},{"i":50,"n":18},{"i":51,"n":6},{"i":52,"n":4},{"i":53,"n":29},{"i":54,"n":15},{"i":55,"n":109},{"i":56,"n":15},{"i":57,"n":3},{"i":58,"n":3},{"i":59,"n":26},{"i":60,"n":6},{"i":61,"n":5},{"i":62,"n":4},{"i":63,"n":12},{"i":64,"n":6},{"i":65,"n":4},{"i":66,"n":6},{"i":67,"n":5},{"i":68,"n":8},{"i":69,"n":24},{"i":70,"n":5},{"i":71,"n":8},{"i":72,"n":26},{"i":73,"n":26},{"i":74,"n":5},{"i":75,"n":3},{"i":76,"n":20}]},"mark":{"type":"bar","orient":"vertical","width":2.4,"color":"#777"}},
{"data":{"values":[{"i":-8.35,"n":165,"label":"MER121"}]},"mark":{"type":"text","align":"left"},"encoding":{"text":{"field":"label"}}},
{"data":{"name":"groupLines"},"mark":{"type":"rule","color":"#777","strokeWidth":1.2},"encoding":{"x2":{"field":"i2"}}},
{"data":{"name":"groupLabels"},"mark":{"type":"text","angle":350},"encoding":{"text":{"field":"label"}}}
]}
]}
